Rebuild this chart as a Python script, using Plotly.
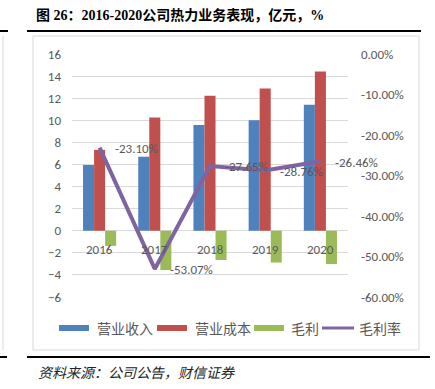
import plotly.graph_objects as go

years = ["2016", "2017", "2018", "2019", "2020"]
revenue = [5.95, 6.70, 9.57, 10.00, 11.40]
cost = [7.32, 10.26, 12.22, 12.88, 14.42]
profit = [-1.37, -3.56, -2.65, -2.88, -3.02]
margin = [-23.10, -53.07, -27.65, -28.76, -26.46]
left_ticks = list(range(-6, 17, 2))
right_ticks = list(range(-60, 1, 10))
right_labels = [f"{v:.2f}%" for v in right_ticks]
series_names = ["营业收入", "营业成本", "毛利", "毛利率"]

BLUE, RED, GREEN, PURPLE = "#4F81BD", "#C0504D", "#9BBB59", "#8064A2"
GRID = "#D9D9D9"
TXT = "#595959"
NUMFONT = "Carlito, Calibri, Liberation Sans, Noto Sans CJK SC"

W, H = 435, 389
L, R, T, B = 72, 348, 54, 297


def px(x):
    return (x - L) / (R - L)


def py(y):
    return (B - y) / (B - T)


fig = go.Figure()
for name, vals, col in [(series_names[0], revenue, BLUE), (series_names[1], cost, RED),
                        (series_names[2], profit, GREEN)]:
    fig.add_bar(x=years, y=vals, name=name, marker=dict(color=col, line=dict(width=0)),
                showlegend=False, yaxis="y")
fig.add_scatter(x=years, y=margin, name=series_names[3], yaxis="y2", mode="lines",
                line=dict(color=PURPLE, width=4), showlegend=False)

annotations = []
for i, yr in enumerate(years):
    annotations.append(dict(x=i, y=0, xref="x", yref="y", text=yr, showarrow=False,
                            yanchor="top", yshift=-9, font=dict(size=13, color=TXT, family=NUMFONT)))
for i, m in enumerate(margin):
    annotations.append(dict(x=i, y=m, xref="x", yref="y2", text=f"{m:.2f}%", showarrow=False,
                            xanchor="left", xshift=13, yshift=-1,
                            font=dict(size=13, color=TXT, family=NUMFONT)))
annotations.append(dict(x=px(34), y=py(15), xref="paper", yref="paper", xanchor="left",
                        yanchor="middle", showarrow=False,
                        text="图 26：2016-2020公司热力业务表现，亿元，%",
                        font=dict(size=14, color="#000000", family="Liberation Serif, Noto Sans CJK SC",
                                  weight="bold")))
annotations.append(dict(x=px(36), y=py(372), xref="paper", yref="paper", xanchor="left",
                        yanchor="middle", showarrow=False,
                        text="资料来源：公司公告，财信证券",
                        font=dict(size=14, color="#222222", family="Noto Sans CJK SC", style="italic")))

shapes = [
    dict(type="rect", xref="paper", yref="paper", x0=px(33), x1=px(419), y0=py(350), y1=py(36),
         line=dict(color=GRID, width=1), layer="below"),
    dict(type="line", xref="paper", yref="paper", x0=px(27), x1=px(421), y0=py(31), y1=py(31),
         line=dict(color="#000000", width=2)),
    dict(type="line", xref="paper", yref="paper", x0=px(27), x1=px(430), y0=py(357), y1=py(357),
         line=dict(color="#000000", width=2)),
    dict(type="line", xref="paper", yref="paper", x0=px(0), x1=px(8), y0=py(31), y1=py(31),
         line=dict(color="#000000", width=2)),
    dict(type="line", xref="paper", yref="paper", x0=px(0), x1=px(7), y0=py(357), y1=py(357),
         line=dict(color="#000000", width=2)),
    dict(type="line", xref="paper", yref="paper", x0=px(3), x1=px(3), y0=py(350), y1=py(36),
         line=dict(color=GRID, width=1)),
]

# legend (drawn manually to match Excel-style wide swatches)
legend_y = py(328)
swatches = [(59, 89, BLUE, 6), (157, 187, RED, 6), (254, 284, GREEN, 6), (322, 354, PURPLE, 3)]
text_x = [95, 193, 289, 357]
for (x0, x1, col, w), tx, name in zip(swatches, text_x, series_names):
    shapes.append(dict(type="line", xref="paper", yref="paper", x0=px(x0), x1=px(x1),
                       y0=legend_y, y1=legend_y, line=dict(color=col, width=w)))
    annotations.append(dict(x=px(tx), y=legend_y, xref="paper", yref="paper", xanchor="left",
                            yanchor="middle", showarrow=False, text=name,
                            font=dict(size=14, color=TXT, family="Noto Sans CJK SC")))

fig.update_layout(
    width=W, height=H,
    margin=dict(l=L, r=W - R, t=T, b=H - B, pad=0, autoexpand=False),
    paper_bgcolor="white", plot_bgcolor="white",
    barmode="group", bargap=0.4, bargroupgap=0,
    font=dict(family=NUMFONT, color=TXT, size=13),
    xaxis=dict(type="category", categoryorder="array", categoryarray=years, range=[-0.5, 4.5],
               showticklabels=False, showgrid=False, zeroline=False, showline=False, ticks=""),
    yaxis=dict(range=[-6, 16], tickvals=left_ticks, showgrid=True, gridcolor=GRID, gridwidth=1,
               zeroline=True, zerolinecolor=GRID, zerolinewidth=1, showline=False, ticks="",
               ticklabelstandoff=10, tickfont=dict(size=13, color=TXT)),
    yaxis2=dict(range=[-60, 0], tickvals=right_ticks, ticktext=right_labels,
                overlaying="y", side="right",
                showgrid=False, zeroline=False, showline=False, ticks="",
                ticklabelstandoff=12, tickfont=dict(size=13, color=TXT)),
    showlegend=False,
    annotations=annotations,
    shapes=shapes,
)

fig.write_html("out.html", post_script="document.body.style.margin='0';",
               config={"displayModeBar": False})
